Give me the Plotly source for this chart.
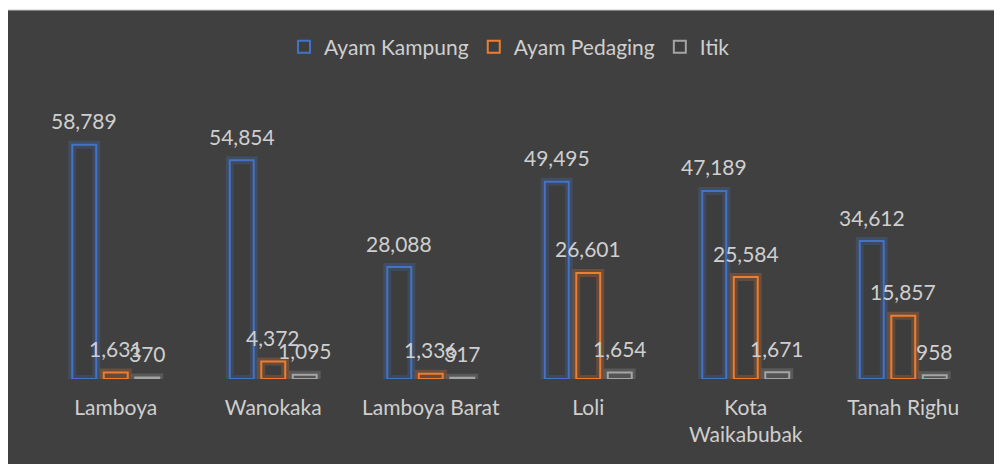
import plotly.graph_objects as go

categories = ["Lamboya", "Wanokaka", "Lamboya Barat", "Loli", "Kota<br>Waikabubak", "Tanah Righu"]
ayam_kampung = [58789, 54854, 28088, 49495, 47189, 34612]
ayam_pedaging = [1631, 4372, 1336, 26601, 25584, 15857]
itik = [370, 1095, 317, 1654, 1671, 958]

series = [
    ("Ayam Kampung", ayam_kampung, (68, 114, 196)),
    ("Ayam Pedaging", ayam_pedaging, (237, 125, 49)),
    ("Itik", itik, (165, 165, 165)),
]

BG = "#404040"
TXT = "#cfcfcf"
FONT = "Lato"

fig = go.Figure()

# glow traces (behind)
for i, (name, vals, c) in enumerate(series):
    r, g, b = c
    fig.add_trace(go.Bar(
        x=categories, y=vals, name=name, offsetgroup=str(i), showlegend=False,
        marker=dict(color="rgba(0,0,0,0)", line=dict(color=f"rgba({r},{g},{b},0.25)", width=8)),
        hoverinfo="skip",
    ))

for i, (name, vals, c) in enumerate(series):
    r, g, b = c
    fig.add_trace(go.Bar(
        x=categories, y=vals, name=name, offsetgroup=str(i),
        marker=dict(color="rgba(20,20,20,0.06)", line=dict(color=f"rgb({r},{g},{b})", width=2)),
    ))

# data labels
pitch = 31.5
for i, (name, vals, c) in enumerate(series):
    for cat, v in zip(categories, vals):
        fig.add_annotation(
            x=cat, y=v, xref="x", yref="y", text=f"{v:,}", showarrow=False,
            xshift=(i - 1) * pitch, yshift=24, yanchor="middle",
            font=dict(family=FONT, size=21, color=TXT),
        )

# page has an 8px body margin; figure coordinates are page minus 8
W, H = 994, 456
L, R, T, B = 29, 20, 92, 85
pw = W - L - R
ph = H - T - B

fig.add_shape(
    type="rect", xref="paper", yref="paper", layer="below",
    x0=(-1 - L) / pw, x1=(W + 2 - L) / pw,
    y0=-(B + 2) / ph, y1=(H - B - 2) / ph,
    fillcolor=BG, line=dict(color="#c8c8c8", width=1),
)

fig.update_layout(
    width=W, height=H,
    margin=dict(l=L, r=R, t=T, b=B),
    paper_bgcolor="white",
    plot_bgcolor="rgba(0,0,0,0)",
    barmode="group",
    bargap=0.40,
    bargroupgap=0.24,
    font=dict(family=FONT, size=21, color=TXT),
    legend=dict(
        orientation="h", x=0.5, xanchor="center", y=(H - B - 39) / ph, yanchor="middle",
        font=dict(family=FONT, size=21, color=TXT), bgcolor="rgba(0,0,0,0)",
        itemwidth=30, traceorder="normal",
    ),
    xaxis=dict(showgrid=False, showline=False, zeroline=False, ticks="",
               ticklabelstandoff=14,
               tickfont=dict(family=FONT, size=21, color=TXT)),
    yaxis=dict(range=[0, 70000], visible=False, showgrid=False),
    showlegend=True,
)

fig.write_html("out.html")
